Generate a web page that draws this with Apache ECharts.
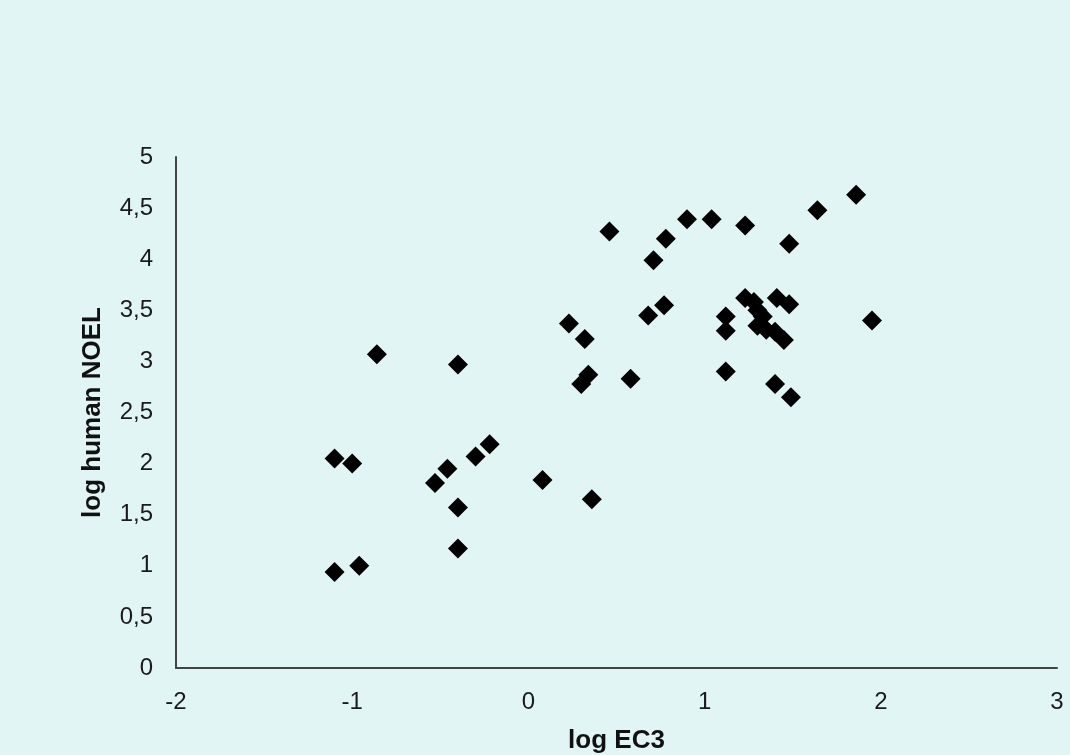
<!DOCTYPE html>
<html>
<head>
<meta charset="utf-8">
<title>log EC3 vs log human NOEL</title>
<script src="https://cdn.jsdelivr.net/npm/echarts@6/dist/echarts.min.js"></script>
<style>
  html, body { margin: 0; padding: 0; background: #e2f5f5; }
  #chart { width: 1070px; height: 755px; }
</style>
</head>
<body>
<div id="chart"></div>
<script>
// log EC3 (x) values
const logEC3 = [
  -1.10, -0.96, -1.10, -1.00, -0.86, -0.40, -0.40, -0.40, -0.53, -0.46,
  -0.30, -0.22, 0.08, 0.36, 0.23, 0.32, 0.30, 0.34, 0.58, 0.46,
  0.78, 0.71, 0.90, 1.04, 1.23, 1.48, 1.64, 1.86, 0.77, 0.68,
  1.12, 1.12, 1.95, 1.12, 1.40, 1.49, 1.23, 1.28, 1.30, 1.41,
  1.48, 1.30, 1.35, 1.40, 1.45, 1.33
]
// log human NOEL (y) values
const logNOEL = [
  0.94, 1.00, 2.05, 2.00, 3.07, 2.97, 1.57, 1.17, 1.81, 1.95,
  2.07, 2.19, 1.84, 1.65, 3.37, 3.22, 2.78, 2.87, 2.83, 4.27,
  4.20, 3.99, 4.39, 4.39, 4.33, 4.15, 4.48, 4.63, 3.55, 3.45,
  3.44, 3.30, 3.40, 2.90, 2.78, 2.65, 3.62, 3.58, 3.50, 3.62,
  3.56, 3.35, 3.31, 3.29, 3.21, 3.44
]

const points = logEC3.map((x, i) => [x, logNOEL[i]])

const chart = echarts.init(document.getElementById('chart'))
// decimal comma, as in the original
const fmt = v => String(v).replace('.', ',')

chart.setOption({
  backgroundColor: '#e2f5f5',
  animation: false,
  grid: { left: 176, right: 13, top: 157, bottom: 87, outerBoundsMode: 'none', containLabel: false },
  xAxis: {
    type: 'value',
    min: -2,
    max: 3,
    interval: 1,
    name: 'log EC3',
    nameLocation: 'middle',
    nameGap: 60,
    nameTextStyle: { fontFamily: 'Liberation Sans', fontSize: 26, fontWeight: 'bold', color: '#111' },
    axisLine: { onZero: false, lineStyle: { color: '#444', width: 2 } },
    axisTick: { show: false },
    splitLine: { show: false },
    axisLabel: { fontFamily: 'Liberation Sans', fontSize: 24, color: '#1a1a1a', margin: 22, formatter: fmt }
  },
  yAxis: {
    type: 'value',
    min: 0,
    max: 5,
    interval: 0.5,
    name: 'log human NOEL',
    nameLocation: 'middle',
    nameGap: 70,
    nameTextStyle: { fontFamily: 'Liberation Sans', fontSize: 26, fontWeight: 'bold', color: '#111' },
    axisLine: { show: true, onZero: false, lineStyle: { color: '#444', width: 2 } },
    axisTick: { show: false },
    splitLine: { show: false },
    axisLabel: { fontFamily: 'Liberation Sans', fontSize: 24, color: '#1a1a1a', margin: 23, formatter: fmt }
  },
  series: [{
    type: 'scatter',
    symbol: 'diamond',
    symbolSize: 20,
    itemStyle: { color: '#000000', opacity: 1 },
    data: points
  }]
})
</script>
</body>
</html>
